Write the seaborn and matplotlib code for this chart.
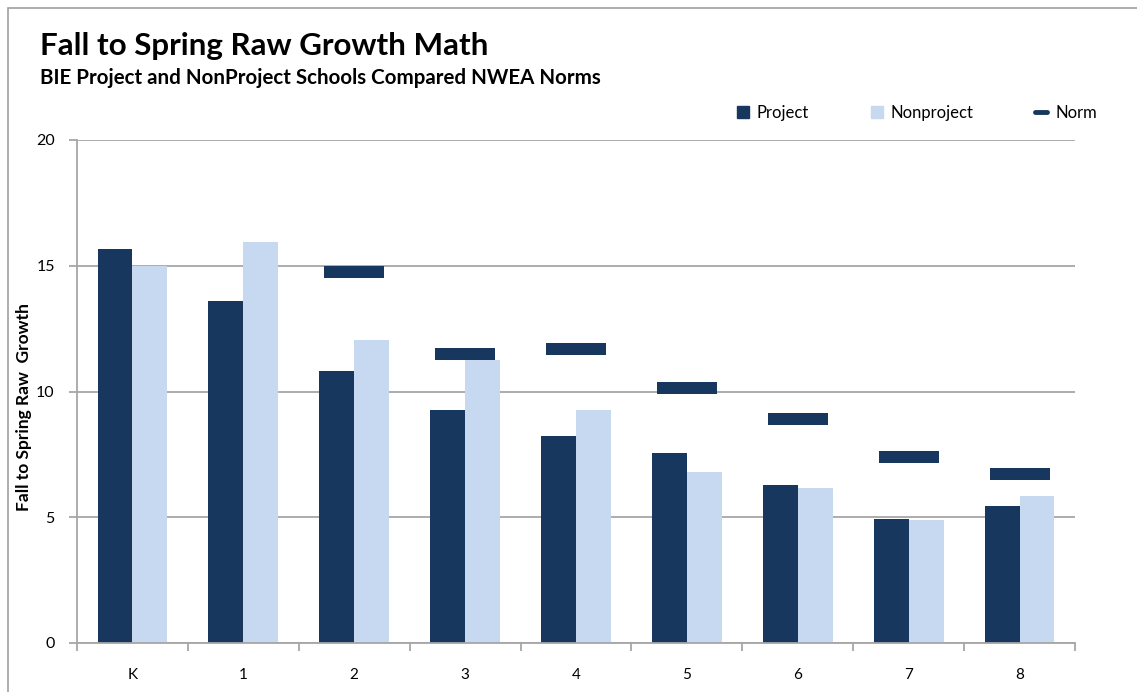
import numpy as np
import pandas as pd
import seaborn as sns
import matplotlib.pyplot as plt
from matplotlib.path import Path
from matplotlib.patches import Patch, Rectangle
from matplotlib.lines import Line2D

# values
grades = ['K', '1', '2', '3', '4', '5', '6', '7', '8']
project = [15.65, 13.6, 10.8, 9.25, 8.25, 7.55, 6.3, 4.95, 5.45]
nonproject = [15.0, 15.95, 12.05, 11.25, 9.25, 6.8, 6.15, 4.9, 5.85]
norm = [np.nan, np.nan, 14.75, 11.5, 11.7, 10.15, 8.9, 7.4, 6.7]

navy = '#17375e'
light = '#c6d9f1'
grey = '#a6a6a6'

df = pd.DataFrame({'grade': grades * 2,
                   'growth': project + nonproject,
                   'group': ['Project'] * len(grades) + ['Nonproject'] * len(grades)})

sns.set_style('white')
plt.rcParams['font.family'] = ['Lato', 'DejaVu Sans']
plt.rcParams['text.color'] = 'black'
plt.rcParams['axes.labelcolor'] = 'black'
plt.rcParams['xtick.labelcolor'] = 'black'
plt.rcParams['ytick.labelcolor'] = 'black'

fig = plt.figure(figsize=(11.37, 6.92), dpi=100)
ax = fig.add_axes([77 / 1137, 1 - 643 / 692, 998 / 1137, 503 / 692])

sns.barplot(data=df, x='grade', y='growth', hue='group', order=grades,
            palette=[navy, light], width=0.63, errorbar=None, saturation=1,
            linewidth=0, legend=False, ax=ax)

# the norm is drawn as a wide flat dash
dash = Path([(-1, -0.21), (1, -0.21), (1, 0.21), (-1, 0.21), (-1, -0.21)],
            [Path.MOVETO, Path.LINETO, Path.LINETO, Path.LINETO, Path.CLOSEPOLY])
sns.pointplot(x=grades, y=norm, order=grades, color=navy, errorbar=None,
              linestyle='none', marker=dash, markersize=43, markeredgewidth=0, ax=ax)

ax.set_xlim(-0.5, len(grades) - 0.5)
ax.set_ylim(0, 20)
ax.set_yticks([0, 5, 10, 15, 20])
ax.yaxis.grid(True, color=grey, lw=1.3)
ax.set_axisbelow(True)
for s in ['top', 'right']:
    ax.spines[s].set_visible(False)
for s in ['left', 'bottom']:
    ax.spines[s].set_color(grey)
    ax.spines[s].set_linewidth(1.3)

ax.set_xticks(np.arange(-0.5, len(grades), 1), minor=True)
ax.tick_params(axis='x', which='major', bottom=True, length=0, pad=18, labelsize=11)
ax.tick_params(axis='x', which='minor', bottom=True, length=6, width=1.3, color=grey)
ax.tick_params(axis='y', left=True, length=6, width=1.3, color=grey, pad=10, labelsize=11.5)
ax.set_xlabel('')
ax.set_ylabel('Fall to Spring Raw  Growth', fontsize=12.5, fontweight='bold')
ax.yaxis.set_label_coords(-0.045, 0.47)

fig.text(40 / 1137, 1 - 55 / 692, 'Fall to Spring Raw Growth Math',
         fontsize=22.6, fontweight='bold', va='baseline')
fig.text(40 / 1137, 1 - 84 / 692, 'BIE Project and NonProject Schools Compared NWEA Norms',
         fontsize=14.8, fontweight='bold', va='baseline')

handles = [Patch(color=navy), Patch(color=light), Line2D([], [], color=navy, lw=3.5)]
fig.legend(handles, ['Project', 'Nonproject', 'Norm'], loc='center left',
           bbox_to_anchor=(737 / 1137, 1 - 113 / 692), ncol=3, frameon=False,
           fontsize=12, handlelength=0.7, handleheight=0.7, handletextpad=0.5,
           columnspacing=3.7, borderpad=0, borderaxespad=0)

fig.add_artist(Rectangle((8 / 1137, -0.1), 1.2, 1.1 - 8 / 692, transform=fig.transFigure,
                         fill=False, ec='#a0a0a0', lw=1.2))

fig.savefig('out.png', dpi=100)
